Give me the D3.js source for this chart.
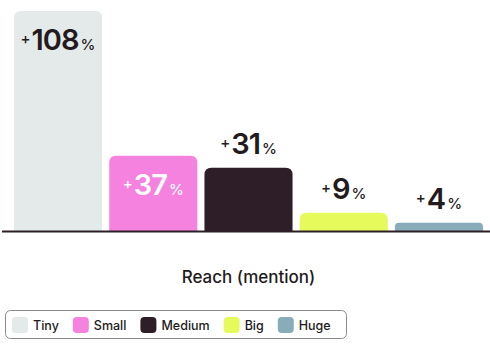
<!DOCTYPE html>
<html>
<head>
<meta charset="utf-8">
<script src="https://cdn.jsdelivr.net/npm/d3@7"></script>
<style>
  body { margin: 0; background: #fff; }
  svg { display: block; font-family: Inter, "DejaVu Sans", sans-serif; }
</style>
</head>
<body>
<svg width="490" height="345"></svg>
<script>
const categories = ["Tiny", "Small", "Medium", "Big", "Huge"];
const values = [108, 37, 31, 9, 4];
const colors = ["#e3eae9", "#f582df", "#2d1e27", "#e6fb5b", "#88adb8"];
const labelColors = ["#231a20", "#ffffff", "#231a20", "#231a20", "#231a20"];
const title = "Reach (mention)";

const svg = d3.select("svg");
const ink = "#231a20";

const x = d3.scaleBand()
  .domain(categories)
  .range([14, 483])
  .paddingInner(0.075)
  .paddingOuter(0);

const y = d3.scaleLinear()
  .domain([0, 108])
  .range([231, 11]);

const r = 7;
function topRounded(x0, y0, w, h) {
  const rr = Math.min(r, h / 2, w / 2);
  return `M${x0},${y0 + h}V${y0 + rr}Q${x0},${y0} ${x0 + rr},${y0}` +
    `H${x0 + w - rr}Q${x0 + w},${y0} ${x0 + w},${y0 + rr}V${y0 + h}Z`;
}

const data = categories.map((c, i) => ({ c, v: values[i], i }));

// bars
svg.append("g")
  .selectAll("path")
  .data(data)
  .join("path")
  .attr("d", d => topRounded(x(d.c), y(d.v), x.bandwidth(), y(0) - y(d.v)))
  .attr("fill", d => colors[d.i]);

// baseline
svg.append("line")
  .attr("x1", 2).attr("x2", 490)
  .attr("y1", y(0) + 0.5).attr("y2", y(0) + 0.5)
  .attr("stroke", "#2d1e27")
  .attr("stroke-width", 2);

// value labels: inside tall bars, above short ones
const labels = svg.append("g")
  .selectAll("text")
  .data(data)
  .join("text")
  .attr("x", d => x(d.c) + x.bandwidth() / 2)
  .attr("y", d => (y(0) - y(d.v) > 70) ? y(d.v) + 39 : y(d.v) - 14)
  .attr("text-anchor", "middle")
  .attr("fill", d => labelColors[d.i]);

labels.append("tspan")
  .attr("font-size", 15)
  .attr("font-weight", 500)
  .attr("dy", -6)
  .text("+");
labels.append("tspan")
  .attr("font-size", 29)
  .attr("font-weight", 600)
  .attr("letter-spacing", -1)
  .attr("dx", 1)
  .attr("dy", 6)
  .text(d => d.v);
labels.append("tspan")
  .attr("font-size", 15)
  .attr("font-weight", 500)
  .attr("dx", 2)
  .text("%");

// axis title
svg.append("text")
  .attr("x", (x.range()[0] + x.range()[1]) / 2)
  .attr("y", 283)
  .attr("text-anchor", "middle")
  .attr("font-size", 17)
  .attr("font-weight", 500)
  .attr("fill", ink)
  .text(title);

// legend
const legend = svg.append("g");
legend.append("rect")
  .attr("x", 5.5).attr("y", 310.5)
  .attr("width", 341).attr("height", 28)
  .attr("rx", 5)
  .attr("fill", "#fff")
  .attr("stroke", "#8a8a8a")
  .attr("stroke-width", 1);

let lx = 12;
categories.forEach((c, i) => {
  const g = legend.append("g").attr("transform", `translate(${lx},317)`);
  g.append("rect")
    .attr("width", 16).attr("height", 16)
    .attr("rx", 4)
    .attr("fill", colors[i]);
  const t = g.append("text")
    .attr("x", 21).attr("y", 12.5)
    .attr("font-size", 12.5)
    .attr("font-weight", 500)
    .attr("fill", ink)
    .text(c);
  lx += 21 + t.node().getComputedTextLength() + 14;
});
</script>
</body>
</html>
